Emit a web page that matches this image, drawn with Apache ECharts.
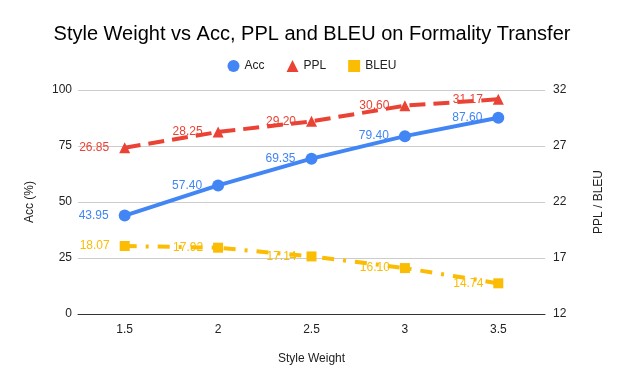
<!DOCTYPE html>
<html>
<head>
    <meta charset="utf-8">
    <title>Style Weight</title>
    <script src="https://cdn.jsdelivr.net/npm/echarts@6/dist/echarts.min.js"></script>
    <style>
        body { margin: 0; background: #fff; }
        #main { width: 624px; height: 386px; }
    </style>
</head>
<body>
<div id="main"></div>
<script type="text/javascript">
    var weights = ['1.5', '2', '2.5', '3', '3.5'];
    var accData = [43.95, 57.40, 69.35, 79.40, 87.60];
    var pplData = [26.85, 28.25, 29.20, 30.60, 31.17];
    var bleuData = [18.07, 17.92, 17.14, 16.10, 14.74];

    var chart = echarts.init(document.getElementById('main'));

    var fontName = 'Liberation Sans, Arial, sans-serif';

    function labelFor(color) {
        return {
            show: true,
            position: 'left',
            distance: 10,
            color: color,
            fontSize: 12,
            fontFamily: fontName,
            formatter: function (p) { return p.value.toFixed(2); }
        };
    }

    var option = {
        animation: false,
        textStyle: {fontFamily: fontName},
        title: {
            text: 'Style Weight vs Acc, PPL and BLEU on Formality Transfer',
            left: 'center',
            top: 19,
            textStyle: {fontSize: 20, fontWeight: 'normal', color: '#000', fontFamily: fontName}
        },
        legend: {
            top: 55,
            left: 'center',
            itemWidth: 12,
            itemHeight: 12,
            itemGap: 22,
            textStyle: {fontSize: 12, color: '#222', fontFamily: fontName},
            data: [
                {name: 'Acc', icon: 'circle'},
                {name: 'PPL', icon: 'triangle'},
                {name: 'BLEU', icon: 'rect'}
            ]
        },
        grid: {left: 78, right: 79, top: 90, bottom: 72},
        xAxis: {
            type: 'category',
            data: weights,
            name: 'Style Weight',
            nameLocation: 'middle',
            nameGap: 39,
            nameTextStyle: {fontSize: 12, color: '#222'},
            axisTick: {show: false},
            axisLine: {lineStyle: {color: '#333', width: 1}},
            axisLabel: {fontSize: 12, color: '#222', margin: 10}
        },
        yAxis: [{
            type: 'value',
            min: 0,
            max: 100,
            interval: 25,
            name: 'Acc (%)',
            nameLocation: 'middle',
            nameGap: 42,
            nameTextStyle: {fontSize: 12, color: '#222'},
            axisLine: {show: false},
            axisTick: {show: false},
            axisLabel: {fontSize: 12, color: '#222', margin: 6},
            splitLine: {lineStyle: {color: '#ccc'}}
        }, {
            type: 'value',
            min: 12,
            max: 32,
            interval: 5,
            name: 'PPL / BLEU',
            nameLocation: 'middle',
            nameGap: 48,
            nameTextStyle: {fontSize: 12, color: '#222'},
            axisLine: {show: false},
            axisTick: {show: false},
            axisLabel: {fontSize: 12, color: '#222', margin: 8},
            splitLine: {show: false}
        }],
        series: [{
            name: 'Acc',
            type: 'line',
            yAxisIndex: 0,
            data: accData,
            symbol: 'circle',
            symbolSize: 12,
            itemStyle: {color: '#4285f4'},
            lineStyle: {color: '#4285f4', width: 4},
            label: labelFor('#4285f4')
        }, {
            name: 'PPL',
            type: 'line',
            yAxisIndex: 1,
            data: pplData,
            symbol: 'triangle',
            symbolSize: 11,
            itemStyle: {color: '#ea4335'},
            lineStyle: {color: '#ea4335', width: 4, type: [16, 8]},
            label: labelFor('#ea4335')
        }, {
            name: 'BLEU',
            type: 'line',
            yAxisIndex: 1,
            data: bleuData,
            symbol: 'rect',
            symbolSize: 10,
            itemStyle: {color: '#fbbc04'},
            lineStyle: {color: '#fbbc04', width: 4, type: [12, 9, 3, 9]},
            label: labelFor('#fbbc04')
        }]
    };

    chart.setOption(option);
</script>
</body>
</html>
